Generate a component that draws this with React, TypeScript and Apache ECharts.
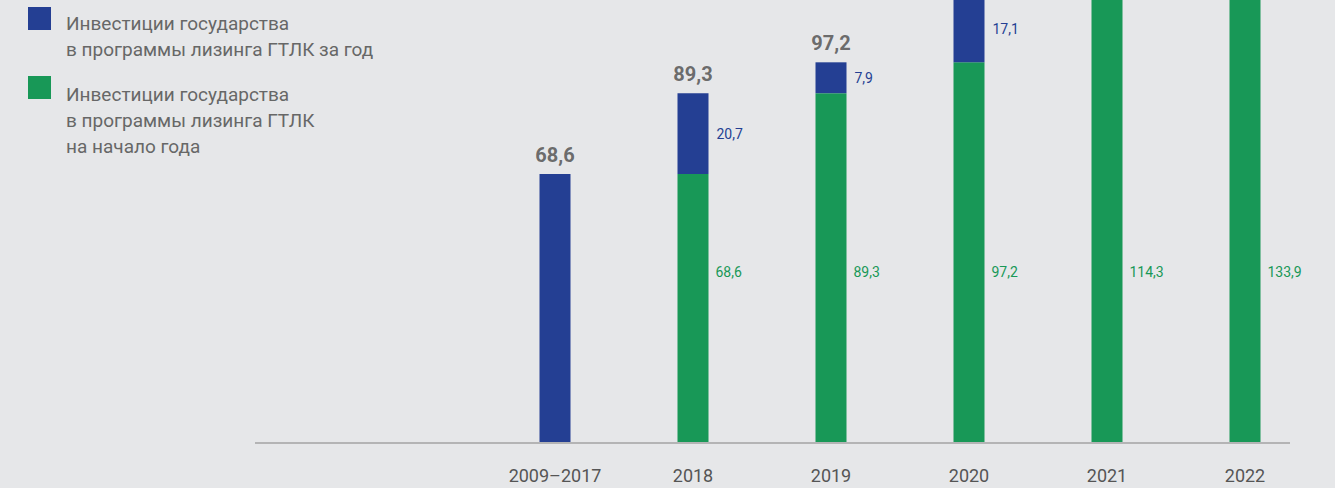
import React, { useEffect, useRef } from "react";
import * as echarts from "echarts";

const categories = ["2009–2017", "2018", "2019", "2020", "2021", "2022"];
// Инвестиции на начало года (green)
const startOfYear: (number | null)[] = [null, 68.6, 89.3, 97.2, 114.3, 133.9];
// Инвестиции за год (blue) — only the visible segments
const perYear: (number | null)[] = [68.6, 20.7, 7.9, 17.1, null, null];
const totals: (number | null)[] = perYear.map((v, i) =>
  v == null ? null : Math.round(((startOfYear[i] ?? 0) + v) * 10) / 10
);

const legendBlue = ["Инвестиции государства", "в программы лизинга ГТЛК за год"];
const legendGreen = ["Инвестиции государства", "в программы лизинга ГТЛК", "на начало года"];

const BLUE = "#243f93";
const GREEN = "#189857";
const BG = "#e6e7e9";
const FONT = "Roboto, 'Noto Sans', sans-serif";

const OFFSET = 200; // chart canvas extends above the visible page
const W = 1335;
const H = 488 + OFFSET;

const fmt = (v: number) => v.toFixed(1).replace(".", ",");

export default function App() {
  const ref = useRef<HTMLDivElement>(null);
  useEffect(() => {
    if (!ref.current) return;
    const chart = echarts.init(ref.current, undefined, { renderer: "svg" });
    const baseY = 442 + OFFSET;
    chart.setOption({
      animation: false,
      backgroundColor: BG,
      grid: { left: 486, right: 21, top: 17, bottom: H - baseY },
      xAxis: {
        type: "category",
        data: categories,
        axisLine: { show: false },
        axisTick: { show: false },
        axisLabel: { color: "#555", fontSize: 18, fontFamily: FONT, margin: 24 },
      },
      yAxis: { type: "value", min: 0, max: 160, show: false, splitLine: { show: false } },
      series: [
        {
          name: legendGreen.join(" "),
          type: "bar",
          stack: "a",
          barWidth: 31,
          data: startOfYear,
          itemStyle: { color: GREEN },
          label: {
            show: true,
            position: "insideBottomRight",
            distance: 0,
            align: "left",
            verticalAlign: "middle",
            offset: [7, -170],
            color: GREEN,
            fontSize: 14,
            fontFamily: FONT,
            formatter: (p: any) => fmt(p.value),
          },
        },
        {
          name: legendBlue.join(" "),
          type: "bar",
          stack: "a",
          barWidth: 31,
          data: perYear,
          itemStyle: { color: BLUE },
          label: {
            show: true,
            position: "right",
            distance: 8,
            color: BLUE,
            fontSize: 14,
            fontFamily: FONT,
            formatter: (p: any) => (p.dataIndex === 0 ? "" : fmt(p.value)),
          },
        },
        {
          name: "total",
          type: "scatter",
          data: totals,
          symbolSize: 0,
          itemStyle: { color: "transparent" },
          label: {
            show: true,
            position: "top",
            distance: 9,
            color: "#4a4a4a",
            fontSize: 20,
            fontWeight: "bold",
            fontFamily: FONT,
            formatter: (p: any) => fmt(p.value),
          },
        },
      ],
      graphic: [
        {
          type: "line",
          shape: { x1: 255, y1: baseY + 1, x2: 1290, y2: baseY + 1 },
          style: { stroke: "#a3a3a3", lineWidth: 1.5 },
          z: 10,
        },
        { type: "rect", shape: { x: 28, y: 7 + OFFSET, width: 23, height: 23 }, style: { fill: BLUE } },
        {
          type: "text",
          x: 66,
          y: 10 + OFFSET,
          style: {
            text: legendBlue.join("\n"),
            fill: "#676767",
            fontSize: 19,
            fontFamily: FONT,
            lineHeight: 26,
            verticalAlign: "top",
          },
        },
        { type: "rect", shape: { x: 28, y: 76 + OFFSET, width: 23, height: 23 }, style: { fill: GREEN } },
        {
          type: "text",
          x: 66,
          y: 81 + OFFSET,
          style: {
            text: legendGreen.join("\n"),
            fill: "#676767",
            fontSize: 19,
            fontFamily: FONT,
            lineHeight: 26,
            verticalAlign: "top",
          },
        },
      ],
    });
    return () => chart.dispose();
  }, []);
  return (
    <div
      style={{
        position: "fixed",
        left: 0,
        top: 0,
        width: W,
        height: 488,
        overflow: "hidden",
        background: BG,
      }}
    >
      <div ref={ref} style={{ position: "absolute", left: 0, top: -OFFSET, width: W, height: H }} />
    </div>
  );
}
